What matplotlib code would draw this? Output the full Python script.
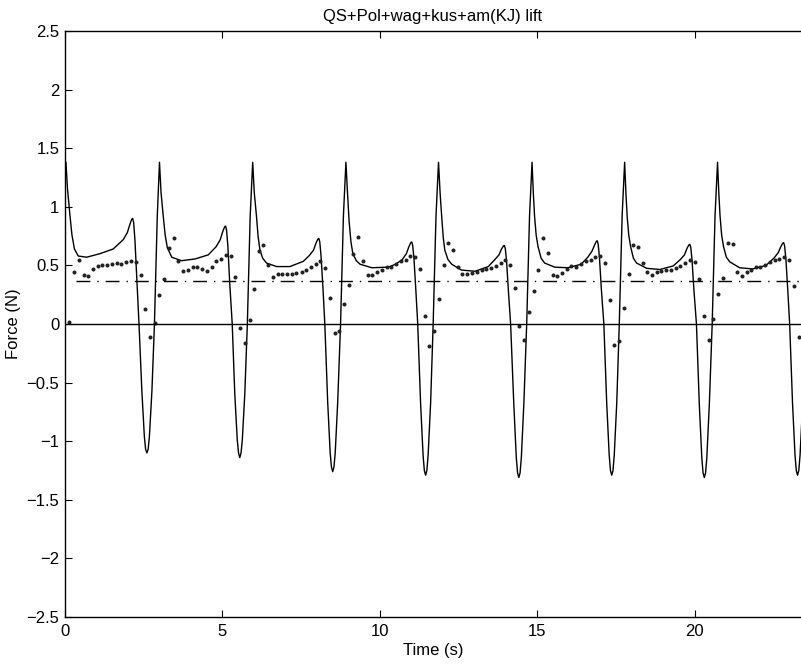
import numpy as np
import matplotlib
matplotlib.use('Agg')
import matplotlib.pyplot as plt

plt.rcParams['font.family'] = ['Liberation Sans', 'DejaVu Sans']
plt.rcParams['font.size'] = 12

# Model lift force (solid line), one row per stroke cycle
time_line = [0.00, 0.03, 0.08, 0.16, 0.22, 0.30, 0.42, 0.69, 1.11, 1.53, 1.85, 1.98, 2.06, 2.12, 2.15, 2.18, 2.22, 2.28,
             2.35, 2.44, 2.52, 2.56, 2.60, 2.64, 2.68, 2.76, 2.84, 2.93,
             3.00, 3.05, 3.12, 3.18, 3.25, 3.39, 3.70, 4.13, 4.55, 4.80, 4.93, 5.01, 5.07, 5.10, 5.13, 5.17, 5.23,
             5.31, 5.39, 5.47, 5.51, 5.55, 5.59, 5.63, 5.71, 5.79, 5.88,
             5.96, 6.01, 6.08, 6.13, 6.19, 6.28, 6.40, 6.72, 7.14, 7.57, 7.76, 7.89, 7.97, 8.03, 8.06, 8.09, 8.13, 8.19,
             8.25, 8.34, 8.42, 8.46, 8.50, 8.54, 8.58, 8.66, 8.75, 8.84,
             8.92, 8.97, 9.02, 9.08, 9.14, 9.25, 9.37, 9.74, 10.26, 10.50, 10.71, 10.84, 10.92, 10.98, 11.01, 11.04, 11.08, 11.14,
             11.20, 11.29, 11.37, 11.41, 11.45, 11.49, 11.53, 11.61, 11.69, 11.78,
             11.86, 11.91, 11.96, 12.01, 12.06, 12.16, 12.28, 12.59, 13.02, 13.44, 13.65, 13.78, 13.86, 13.92, 13.95, 13.98, 14.02, 14.08,
             14.15, 14.25, 14.33, 14.37, 14.41, 14.45, 14.49, 14.57, 14.66, 14.75,
             14.83, 14.87, 14.91, 14.96, 15.02, 15.12, 15.23, 15.55, 15.97, 16.39, 16.60, 16.73, 16.81, 16.87, 16.90, 16.93, 16.97, 17.03,
             17.11, 17.20, 17.28, 17.32, 17.36, 17.40, 17.44, 17.52, 17.60, 17.69,
             17.77, 17.81, 17.85, 17.90, 17.96, 18.05, 18.15, 18.47, 18.89, 19.31, 19.54, 19.67, 19.75, 19.81, 19.84, 19.87, 19.91, 19.97,
             20.05, 20.14, 20.22, 20.26, 20.30, 20.34, 20.38, 20.46, 20.55, 20.64,
             20.72, 20.76, 20.80, 20.85, 20.91, 21.00, 21.11, 21.42, 21.84, 22.26, 22.52, 22.65, 22.73, 22.79, 22.82, 22.85, 22.89, 22.95,
             23.01, 23.10, 23.18, 23.22, 23.26, 23.30, 23.34, 23.40]
force_line = [1.30, 1.38, 1.15, 0.92, 0.76, 0.64, 0.58, 0.57, 0.60, 0.64, 0.72, 0.78, 0.85, 0.895, 0.90, 0.865, 0.72, 0.38,
              0.00, -0.57, -0.96, -1.07, -1.10, -1.07, -0.96, -0.57, 0.00, 0.92,
              1.38, 1.12, 0.92, 0.76, 0.65, 0.57, 0.54, 0.555, 0.59, 0.66, 0.72, 0.79, 0.83, 0.836, 0.80, 0.67, 0.35,
              0.00, -0.59, -0.99, -1.10, -1.14, -1.10, -0.99, -0.59, 0.00, 0.92,
              1.38, 1.12, 0.92, 0.75, 0.63, 0.56, 0.52, 0.49, 0.49, 0.535, 0.585, 0.63, 0.69, 0.725, 0.73, 0.70, 0.58, 0.31,
              0.00, -0.66, -1.10, -1.22, -1.26, -1.22, -1.10, -0.66, 0.00, 0.92,
              1.38, 1.12, 0.88, 0.70, 0.60, 0.54, 0.51, 0.48, 0.485, 0.51, 0.55, 0.60, 0.66, 0.695, 0.70, 0.67, 0.56, 0.29,
              0.00, -0.67, -1.12, -1.25, -1.29, -1.25, -1.12, -0.67, 0.00, 0.92,
              1.38, 1.12, 0.92, 0.74, 0.63, 0.55, 0.51, 0.46, 0.45, 0.49, 0.55, 0.59, 0.64, 0.665, 0.67, 0.645, 0.54, 0.28,
              0.00, -0.68, -1.14, -1.27, -1.31, -1.27, -1.14, -0.68, 0.00, 0.92,
              1.38, 1.12, 0.92, 0.76, 0.66, 0.56, 0.52, 0.485, 0.48, 0.51, 0.57, 0.62, 0.67, 0.705, 0.71, 0.68, 0.57, 0.30,
              0.00, -0.67, -1.12, -1.25, -1.29, -1.25, -1.12, -0.67, 0.00, 0.92,
              1.38, 1.12, 0.92, 0.76, 0.66, 0.56, 0.52, 0.475, 0.465, 0.495, 0.55, 0.59, 0.645, 0.675, 0.68, 0.655, 0.545, 0.29,
              0.00, -0.68, -1.14, -1.27, -1.31, -1.27, -1.14, -0.68, 0.00, 0.92,
              1.38, 1.12, 0.92, 0.76, 0.66, 0.57, 0.53, 0.48, 0.47, 0.50, 0.565, 0.61, 0.66, 0.69, 0.694, 0.665, 0.555, 0.29,
              0.00, -0.67, -1.12, -1.25, -1.29, -1.25, -1.12, -0.80]

# Measured lift (dots)
time_dots = [0.14, 0.29, 0.44, 0.59, 0.74, 0.89, 1.04, 1.19, 1.34, 1.49, 1.64, 1.79, 1.94, 2.09, 2.24, 2.40,
             2.55, 2.70, 2.85, 3.00,
             3.15, 3.30, 3.45, 3.60, 3.75, 3.90, 4.05, 4.20, 4.35, 4.50, 4.66, 4.81, 4.96, 5.11, 5.26, 5.41,
             5.56, 5.71, 5.86, 6.01,
             6.15, 6.30, 6.45, 6.60, 6.75, 6.90, 7.05, 7.20, 7.35, 7.51, 7.66, 7.81, 7.96, 8.11, 8.26, 8.41,
             8.56, 8.71, 8.86, 9.01,
             9.16, 9.31, 9.46, 9.61, 9.76, 9.91, 10.06, 10.21, 10.36, 10.51, 10.66, 10.82, 10.97, 11.12, 11.27, 11.42,
             11.57, 11.72, 11.87, 12.02,
             12.17, 12.32, 12.47, 12.62, 12.77, 12.92, 13.08, 13.23, 13.38, 13.53, 13.68, 13.83, 13.98, 14.13, 14.28,
             14.43, 14.58, 14.74, 14.89,
             15.03, 15.18, 15.33, 15.48, 15.63, 15.78, 15.93, 16.08, 16.24, 16.39, 16.54, 16.69, 16.84, 16.99, 17.14,
             17.29, 17.44, 17.59, 17.75, 17.90,
             18.03, 18.19, 18.34, 18.48, 18.64, 18.79, 18.94, 19.09, 19.24, 19.39, 19.54, 19.69, 19.84, 19.99, 20.14,
             20.29, 20.44, 20.59, 20.74,
             20.89, 21.05, 21.20, 21.34, 21.49, 21.64, 21.79, 21.94, 22.08, 22.24, 22.39, 22.53, 22.68, 22.83, 22.98,
             23.15, 23.30]
force_dots = [0.02, 0.44, 0.55, 0.42, 0.41, 0.47, 0.495, 0.50, 0.505, 0.51, 0.52, 0.515, 0.525, 0.535, 0.53, 0.415,
              0.13, -0.11, 0.01, 0.245,
              0.38, 0.65, 0.73, 0.54, 0.455, 0.46, 0.485, 0.49, 0.47, 0.455, 0.49, 0.54, 0.555, 0.59, 0.58, 0.40,
              -0.03, -0.16, 0.03, 0.30,
              0.625, 0.67, 0.505, 0.405, 0.425, 0.425, 0.425, 0.425, 0.435, 0.445, 0.465, 0.485, 0.51, 0.54, 0.48, 0.22,
              -0.08, -0.06, 0.17, 0.33,
              0.60, 0.74, 0.535, 0.42, 0.42, 0.44, 0.465, 0.485, 0.485, 0.51, 0.535, 0.55, 0.58, 0.575, 0.47, 0.07,
              -0.19, -0.06, 0.215, 0.505,
              0.69, 0.63, 0.49, 0.43, 0.43, 0.435, 0.445, 0.46, 0.47, 0.48, 0.495, 0.52, 0.545, 0.50, 0.31,
              -0.02, -0.135, 0.10, 0.285,
              0.46, 0.73, 0.61, 0.42, 0.41, 0.435, 0.47, 0.495, 0.49, 0.51, 0.54, 0.545, 0.57, 0.58, 0.52,
              0.205, -0.18, -0.145, 0.14, 0.425,
              0.67, 0.66, 0.52, 0.44, 0.42, 0.445, 0.45, 0.46, 0.465, 0.475, 0.495, 0.52, 0.545, 0.525, 0.38,
              0.07, -0.135, 0.04, 0.26,
              0.39, 0.69, 0.68, 0.44, 0.41, 0.44, 0.465, 0.49, 0.49, 0.505, 0.525, 0.55, 0.555, 0.575, 0.545,
              0.32, -0.11]

mean_force = 0.365
mean_start = 0.35
t_end = 23.37

yticks = [-2.5, -2, -1.5, -1, -0.5, 0, 0.5, 1, 1.5, 2, 2.5]
ytick_labels = ['\u22122.5', '\u22122', '\u22121.5', '\u22121', '\u22120.5', '0', '0.5', '1', '1.5', '2', '2.5']
xticks = [0, 5, 10, 15, 20]

fig = plt.figure(figsize=(8.01, 6.64), dpi=100)
ax = fig.add_axes([65 / 801, 47 / 664, 736 / 801, 586 / 664])

ax.plot(time_line, force_line, color='black', lw=1.0)
ax.plot(time_dots, force_dots, 'o', color='#222222', ms=2.9, mec='none')
ax.axhline(0, color='black', lw=1.0)
dash_line, = ax.plot([mean_start, t_end], [mean_force, mean_force], color='black', lw=1.0)
dash_line.set_dashes([10, 5, 1, 5])

ax.set_xlim(0, t_end)
ax.set_ylim(-2.5, 2.5)
ax.set_xticks(xticks)
ax.set_xticklabels([str(x) for x in xticks])
ax.set_yticks(yticks)
ax.set_yticklabels(ytick_labels)
ax.tick_params(direction='in', length=5, width=0.8, top=True, right=False, labelsize=12)
ax.tick_params(axis='x', pad=5)
ax.tick_params(axis='y', pad=4)
ax.spines['right'].set_visible(False)
for s in ['left', 'bottom', 'top']:
    ax.spines[s].set_linewidth(1.0)

ax.set_xlabel('Time (s)', fontsize=12, labelpad=3)
ax.set_ylabel('Force (N)', fontsize=12, labelpad=4)
ax.set_title('QS+Pol+wag+kus+am(KJ) lift', fontsize=12, pad=7)

fig.savefig('out.png', dpi=100)
